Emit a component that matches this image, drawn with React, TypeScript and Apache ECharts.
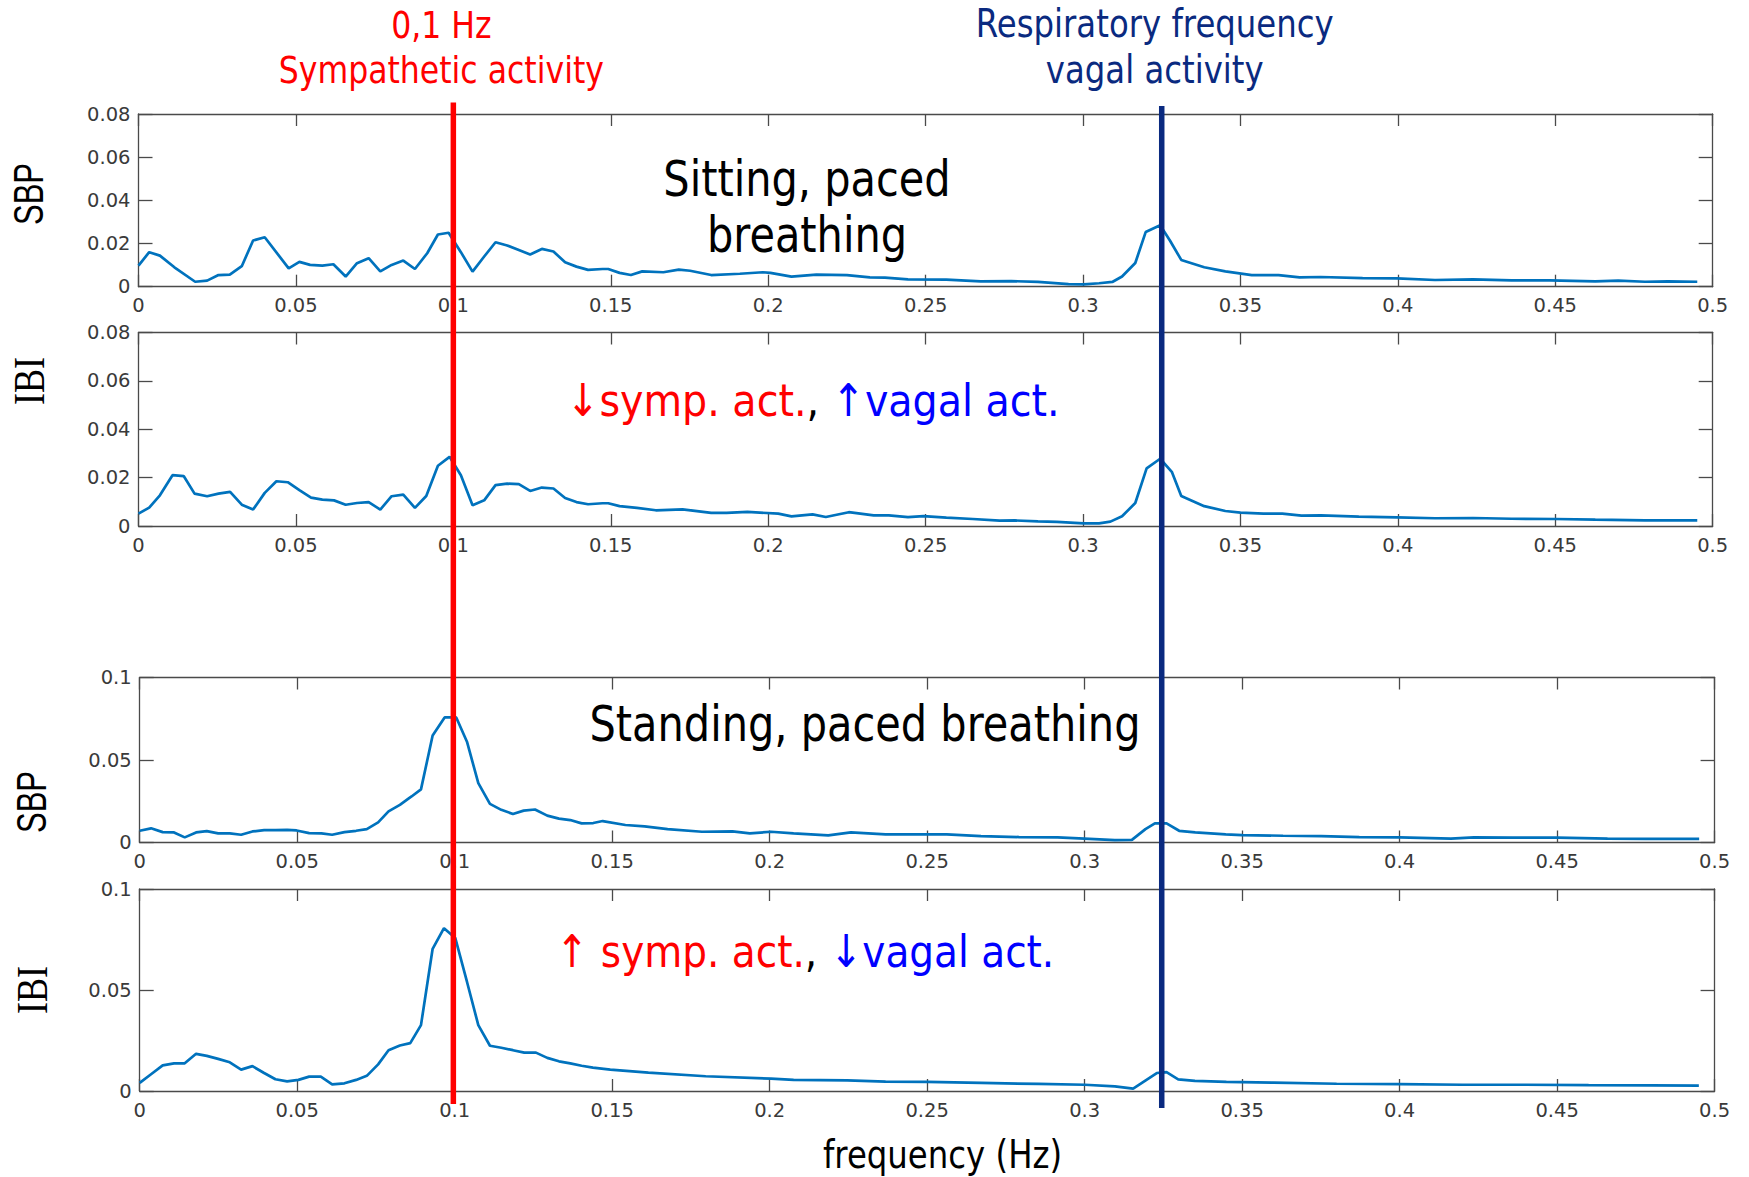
import React, { useEffect, useRef } from "react";
import * as echarts from "echarts";

// Power spectra (frequency in Hz, spectral power) for the four recordings.
const sbpSitting: [number, number][] = [
  [0, 0.0098], [0.0034, 0.016], [0.0068, 0.0144], [0.0114, 0.009], [0.018, 0.0023], [0.0218, 0.0028],
  [0.0254, 0.0054], [0.029, 0.0056], [0.0328, 0.0095], [0.0364, 0.0214], [0.0401, 0.0229], [0.0477, 0.0085],
  [0.0511, 0.0115], [0.0545, 0.0101], [0.0584, 0.0098], [0.0619, 0.0104], [0.0658, 0.0047], [0.0694, 0.0109],
  [0.0731, 0.0132], [0.0768, 0.0071], [0.0804, 0.0101], [0.0841, 0.0121], [0.0878, 0.0082], [0.0917, 0.0155],
  [0.0951, 0.0242], [0.0985, 0.025], [0.1024, 0.016], [0.1061, 0.007], [0.1098, 0.014], [0.1134, 0.0206],
  [0.1171, 0.0191], [0.1208, 0.017], [0.1244, 0.0149], [0.1281, 0.0175], [0.1318, 0.0163], [0.1355, 0.0113],
  [0.1391, 0.0093], [0.1428, 0.0078], [0.1474, 0.0082], [0.1492, 0.0082], [0.1528, 0.0064], [0.1564, 0.0054],
  [0.16, 0.0071], [0.1667, 0.0067], [0.1716, 0.0079], [0.1752, 0.0074], [0.1819, 0.0054], [0.191, 0.006],
  [0.1983, 0.0067], [0.2007, 0.0064], [0.2074, 0.0047], [0.2153, 0.0056], [0.225, 0.0054], [0.2323, 0.0043],
  [0.2371, 0.0042], [0.2444, 0.0034], [0.2566, 0.0033], [0.2675, 0.0025], [0.2772, 0.0026], [0.2857, 0.0022],
  [0.2954, 0.0012], [0.3002, 0.0011], [0.3051, 0.0016], [0.3093, 0.0022], [0.3124, 0.0047], [0.3166, 0.011],
  [0.3199, 0.0253], [0.3245, 0.0285], [0.3276, 0.0214], [0.3312, 0.0124], [0.3385, 0.009], [0.3452, 0.0071],
  [0.3536, 0.0054], [0.3621, 0.0054], [0.3688, 0.0043], [0.3755, 0.0045], [0.3888, 0.004], [0.3997, 0.0039],
  [0.4118, 0.0031], [0.4239, 0.0034], [0.4361, 0.0029], [0.4482, 0.0029], [0.4627, 0.0025], [0.47, 0.0028],
  [0.4785, 0.0023], [0.4858, 0.0025], [0.4951, 0.0023],
];

const ibiSitting: [number, number][] = [
  [0, 0.0051], [0.0034, 0.0076], [0.0068, 0.0127], [0.0108, 0.021], [0.0144, 0.0206], [0.0178, 0.0134],
  [0.0218, 0.0123], [0.0254, 0.0134], [0.0291, 0.0141], [0.0328, 0.0088], [0.0364, 0.0068], [0.0401, 0.0137],
  [0.0438, 0.0185], [0.0474, 0.0181], [0.0511, 0.0148], [0.0548, 0.0117], [0.0584, 0.0109], [0.0621, 0.0106],
  [0.0658, 0.0088], [0.0694, 0.0095], [0.0731, 0.0099], [0.0768, 0.0068], [0.0804, 0.0123], [0.0841, 0.013],
  [0.0878, 0.0075], [0.0914, 0.0124], [0.0951, 0.0249], [0.0988, 0.0286], [0.1024, 0.021], [0.1061, 0.0086],
  [0.1098, 0.0106], [0.1134, 0.0169], [0.1171, 0.0175], [0.1208, 0.0173], [0.1244, 0.0145], [0.1281, 0.0159],
  [0.1318, 0.0155], [0.1355, 0.0116], [0.1391, 0.0099], [0.1428, 0.009], [0.1474, 0.0094], [0.1492, 0.0094],
  [0.1528, 0.0082], [0.1583, 0.0075], [0.1643, 0.0065], [0.1728, 0.0069], [0.1819, 0.0054], [0.1868, 0.0054],
  [0.1934, 0.0058], [0.2032, 0.0051], [0.2074, 0.004], [0.2141, 0.0048], [0.2183, 0.0037], [0.2256, 0.0057],
  [0.2335, 0.0044], [0.2383, 0.0044], [0.2444, 0.0037], [0.2493, 0.0041], [0.2566, 0.0035], [0.265, 0.0029],
  [0.2735, 0.0022], [0.2784, 0.0023], [0.2857, 0.0019], [0.2917, 0.0017], [0.3002, 0.0011], [0.3051, 0.0011],
  [0.3087, 0.0018], [0.3124, 0.004], [0.3166, 0.0095], [0.3202, 0.0238], [0.3245, 0.0278], [0.3282, 0.0224],
  [0.3312, 0.0124], [0.3385, 0.0082], [0.3452, 0.0062], [0.35, 0.0055], [0.3573, 0.0051], [0.3633, 0.0051],
  [0.3694, 0.0043], [0.3755, 0.0044], [0.3876, 0.0039], [0.3997, 0.0036], [0.4118, 0.0032], [0.4239, 0.0033],
  [0.4361, 0.003], [0.45, 0.0029], [0.4627, 0.0026], [0.4785, 0.0023], [0.4951, 0.0023],
];

const sbpStanding: [number, number][] = [
  [0, 0.0071], [0.0036, 0.0086], [0.0073, 0.0063], [0.0109, 0.0061], [0.0143, 0.0031], [0.0179, 0.0061],
  [0.0213, 0.0069], [0.0249, 0.0055], [0.0286, 0.0055], [0.0322, 0.0047], [0.0358, 0.0067], [0.0395, 0.0075],
  [0.0431, 0.0075], [0.0468, 0.0077], [0.0498, 0.0073], [0.0538, 0.0057], [0.0577, 0.0055], [0.0611, 0.0047],
  [0.065, 0.0063], [0.0687, 0.0071], [0.0721, 0.0081], [0.0757, 0.0122], [0.079, 0.0189], [0.0826, 0.0228],
  [0.0863, 0.0279], [0.0893, 0.0322], [0.093, 0.0648], [0.0968, 0.0758], [0.1005, 0.0758], [0.1039, 0.0611],
  [0.1075, 0.036], [0.1112, 0.0234], [0.1148, 0.0198], [0.1185, 0.0173], [0.1219, 0.0193], [0.1255, 0.02],
  [0.1294, 0.0163], [0.1331, 0.0145], [0.1367, 0.0136], [0.1403, 0.0116], [0.144, 0.0118], [0.147, 0.013],
  [0.1542, 0.0106], [0.1603, 0.0098], [0.1676, 0.0081], [0.1785, 0.0065], [0.1882, 0.0067], [0.1937, 0.0055],
  [0.2004, 0.0065], [0.2076, 0.0055], [0.2186, 0.0043], [0.2258, 0.0061], [0.2368, 0.0049], [0.2489, 0.0049],
  [0.2562, 0.0049], [0.2671, 0.0039], [0.2792, 0.0033], [0.2914, 0.0031], [0.2999, 0.0024], [0.3096, 0.0014],
  [0.315, 0.0016], [0.3193, 0.0081], [0.3223, 0.0116], [0.326, 0.0116], [0.33, 0.0071], [0.3351, 0.0061],
  [0.3448, 0.0049], [0.35, 0.0045], [0.363, 0.0041], [0.3751, 0.0039], [0.3872, 0.0033], [0.4, 0.0031],
  [0.4163, 0.0024], [0.4236, 0.0031], [0.4357, 0.0029], [0.45, 0.0029], [0.466, 0.0024], [0.4781, 0.0022],
  [0.4951, 0.0022],
];

const ibiStanding: [number, number][] = [
  [0, 0.004], [0.0036, 0.0083], [0.0073, 0.0127], [0.0109, 0.0137], [0.0143, 0.0137], [0.0179, 0.0184],
  [0.0213, 0.0174], [0.0249, 0.0159], [0.0286, 0.0142], [0.0322, 0.0106], [0.0358, 0.0123], [0.0395, 0.0089],
  [0.0431, 0.0058], [0.0468, 0.0048], [0.0504, 0.0055], [0.0538, 0.0071], [0.0575, 0.0071], [0.0611, 0.0033],
  [0.065, 0.0038], [0.0687, 0.0055], [0.0721, 0.0075], [0.0757, 0.0132], [0.079, 0.0202], [0.0826, 0.0225],
  [0.0859, 0.0237], [0.0893, 0.0326], [0.093, 0.0704], [0.0966, 0.0806], [0.1002, 0.0757], [0.1039, 0.0541],
  [0.1075, 0.0326], [0.1112, 0.0224], [0.1148, 0.0214], [0.1185, 0.0202], [0.1221, 0.019], [0.1258, 0.019],
  [0.1294, 0.0164], [0.1331, 0.0147], [0.1367, 0.0137], [0.1403, 0.0125], [0.1439, 0.0116], [0.1494, 0.0106],
  [0.1615, 0.0091], [0.1797, 0.0073], [0.2004, 0.0061], [0.2076, 0.0055], [0.2246, 0.0053], [0.2368, 0.0046],
  [0.25, 0.0045], [0.2671, 0.004], [0.2853, 0.0035], [0.3, 0.0031], [0.3096, 0.0023], [0.3154, 0.0012],
  [0.3229, 0.0089], [0.326, 0.0093], [0.3297, 0.0058], [0.335, 0.005], [0.345, 0.0045], [0.36, 0.0041],
  [0.38, 0.0036], [0.4, 0.0034], [0.42, 0.0031], [0.44, 0.0031], [0.46, 0.0029], [0.48, 0.0028],
  [0.495, 0.0027],
];

const panelSeries = [sbpSitting, ibiSitting, sbpStanding, ibiStanding];
const panelNames = ["SBP", "IBI", "SBP", "IBI"];
const panelYMax = [0.08, 0.08, 0.1, 0.1];
const panelYStep = [0.02, 0.02, 0.05, 0.05];
const FREQ_MIN = 0;
const FREQ_MAX = 0.5;
const FREQ_STEP = 0.05;

// Reference frequencies marked by vertical lines.
const SYMPATHETIC_HZ = 0.1;
const RESPIRATORY_HZ = 0.325;

// Layout of the four stacked panels (pixels).
const GRIDS = [
  { left: 138.5, top: 114, width: 1574.2, height: 172.7 },
  { left: 138.5, top: 332.5, width: 1574.2, height: 193.5 },
  { left: 139.7, top: 677.5, width: 1574.9, height: 165 },
  { left: 139.7, top: 889, width: 1574.9, height: 202 },
];
const NAME_POS = [
  { x: 29, y: 194 },
  { x: 29.5, y: 381 },
  { x: 31.5, y: 802 },
  { x: 32, y: 990 },
];

const AXIS_COLOR = "#4a4a4a";
const LABEL_COLOR = "#3a3a3a";
const LINE_COLOR = "#0072BD";
const RED = "#ff0000";
const NAVY = "#0a2a80";
const BLUE = "#0000ff";
const TEXT_FONT = "DejaVu Sans";
const TICK_FONT = "DejaVu Sans";

const fmt = (v: number) => String(+v.toFixed(3));

function buildOption(): echarts.EChartsOption {
  const grid: any[] = [];
  const xAxis: any[] = [];
  const yAxis: any[] = [];
  const series: any[] = [];

  GRIDS.forEach((g, i) => {
    grid.push({ ...g, containLabel: false });
    const common = {
      type: "value",
      gridIndex: i,
      splitLine: { show: false },
      axisLine: { show: true, onZero: false, lineStyle: { color: AXIS_COLOR, width: 1.3 } },
    };
    xAxis.push({
      ...common,
      position: "bottom",
      min: FREQ_MIN,
      max: FREQ_MAX,
      interval: FREQ_STEP,
      axisTick: { show: true, inside: true, length: 12, lineStyle: { color: AXIS_COLOR, width: 1.3 } },
      axisLabel: {
        show: true,
        margin: 9,
        color: LABEL_COLOR,
        fontFamily: TICK_FONT,
        fontSize: 19.5,
        showMinLabel: true,
        showMaxLabel: true,
        formatter: (v: number) => fmt(v),
      },
    });
    xAxis.push({
      ...common,
      position: "top",
      min: FREQ_MIN,
      max: FREQ_MAX,
      interval: FREQ_STEP,
      axisTick: { show: true, inside: true, length: 12, lineStyle: { color: AXIS_COLOR, width: 1.3 } },
      axisLabel: { show: false },
    });
    yAxis.push({
      ...common,
      position: "left",
      min: 0,
      max: panelYMax[i],
      interval: panelYStep[i],
      axisTick: { show: true, inside: true, length: 14, lineStyle: { color: AXIS_COLOR, width: 1.3 } },
      axisLabel: {
        show: true,
        margin: 8,
        color: LABEL_COLOR,
        fontFamily: TICK_FONT,
        fontSize: 19.5,
        showMinLabel: true,
        showMaxLabel: true,
        formatter: (v: number) => fmt(v),
      },
    });
    yAxis.push({
      ...common,
      position: "right",
      min: 0,
      max: panelYMax[i],
      interval: panelYStep[i],
      axisTick: { show: true, inside: true, length: 14, lineStyle: { color: AXIS_COLOR, width: 1.3 } },
      axisLabel: { show: false },
    });
    series.push({
      type: "line",
      xAxisIndex: 2 * i,
      yAxisIndex: 2 * i,
      data: panelSeries[i],
      showSymbol: false,
      symbol: "none",
      silent: true,
      clip: true,
      lineStyle: { color: LINE_COLOR, width: 2.7 },
    });
  });

  return {
    animation: false,
    backgroundColor: "#ffffff",
    grid,
    xAxis,
    yAxis,
    series,
  };
}

function txt(
  x: number,
  y: number,
  text: string,
  fill: string,
  fontSize: number,
  extra: any = {},
  fontFamily = TEXT_FONT
) {
  return {
    type: "text",
    x,
    y,
    z: 100,
    silent: true,
    ...extra,
    style: {
      text,
      fill,
      fontSize,
      fontFamily,
      align: "center",
      verticalAlign: "middle",
      textAlign: "center",
      textVerticalAlign: "middle",
      ...(extra.style || {}),
    },
  };
}

function richTxt(x: number, y: number, text: string, fontSize: number, scaleX: number) {
  const part = (fill: string) => ({ fill, color: fill, fontSize, fontFamily: TEXT_FONT });
  return {
    type: "text",
    x,
    y,
    z: 100,
    silent: true,
    scaleX,
    style: {
      text,
      fill: "#000",
      fontSize,
      fontFamily: TEXT_FONT,
      align: "center",
      verticalAlign: "middle",
      textAlign: "center",
      textVerticalAlign: "middle",
      rich: { r: part(RED), k: part("#000000"), b: part(BLUE) },
    },
  };
}

export default function App() {
  const ref = useRef<HTMLDivElement>(null);

  useEffect(() => {
    if (!ref.current) return;
    const chart = echarts.init(ref.current, undefined, { renderer: "svg" });
    chart.setOption(buildOption());

    const xRed = chart.convertToPixel({ xAxisIndex: 0 }, SYMPATHETIC_HZ) as number;
    const xNavy = chart.convertToPixel({ xAxisIndex: 0 }, RESPIRATORY_HZ) as number;
    const sx = { scaleX: 0.83 };

    const graphic: any[] = [
      // Vertical markers spanning all four panels
      {
        type: "line",
        z: 90,
        silent: true,
        shape: { x1: xRed, y1: 102.6, x2: xRed, y2: 1104 },
        style: { stroke: RED, lineWidth: 5.5 },
      },
      {
        type: "line",
        z: 90,
        silent: true,
        shape: { x1: xNavy, y1: 106, x2: xNavy, y2: 1108 },
        style: { stroke: NAVY, lineWidth: 5.5 },
      },
      // Marker captions
      txt(xRed - 12, 24.5, "0,1 Hz", RED, 38, sx),
      txt(xRed - 12, 70, "Sympathetic activity", RED, 38, sx),
      txt(xNavy - 7, 23.5, "Respiratory frequency", NAVY, 39, sx),
      txt(xNavy - 7, 69, "vagal activity", NAVY, 39, sx),
      // Condition captions
      txt(807, 179, "Sitting, paced", "#000", 50, sx),
      txt(807, 235, "breathing", "#000", 50, sx),
      txt(865, 724, "Standing, paced breathing", "#000", 50, sx),
      richTxt(813, 401, "{r|↓symp. act.}{k|, }{b|↑vagal act.}", 45, 0.88),
      richTxt(805, 952, "{r|↑ symp. act.}{k|, }{b|↓vagal act.}", 45, 0.867),
      // Shared x-axis title
      txt(942.5, 1154, "frequency (Hz)", "#000", 39, sx),
    ];

    // Panel names along the left side
    NAME_POS.forEach((p, i) => {
      const serif = panelNames[i] === "IBI";
      graphic.push(
        txt(
          p.x,
          p.y,
          panelNames[i],
          "#000",
          serif ? 44 : 42,
          { rotation: Math.PI / 2, scaleX: serif ? 0.82 : 0.74 },
          serif ? "Liberation Serif" : "Liberation Sans"
        )
      );
    });

    chart.setOption({ graphic });

    return () => chart.dispose();
  }, []);

  return (
    <div
      ref={ref}
      style={{
        position: "absolute",
        left: 0,
        top: 0,
        width: 1749,
        height: 1177,
        background: "#ffffff",
      }}
    />
  );
}
